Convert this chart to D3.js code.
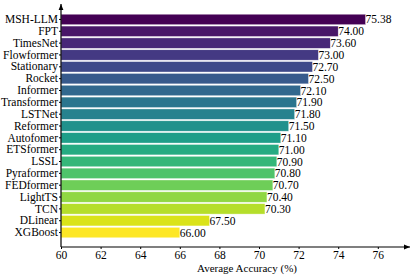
<!DOCTYPE html>
<html>
<head>
<meta charset="utf-8">
<script src="https://cdn.jsdelivr.net/npm/d3@7"></script>
</head>
<body style="margin:0; background:#fff">
<script>
// horizontal bar chart, viridis colours
var width = 415;
var height = 277;
var serif = "Liberation Serif";

var margin = { top: 14, left: 61, right: 7, bottom: 30 };

// data
var models = ["MSH-LLM", "FPT", "TimesNet", "Flowformer", "Stationary", "Rocket",
  "Informer", "Transformer", "LSTNet", "Reformer", "Autofomer", "ETSformer",
  "LSSL", "Pyraformer", "FEDformer", "LightTS", "TCN", "DLinear", "XGBoost"];
var accuracy = [75.38, 74.00, 73.60, 73.00, 72.70, 72.50, 72.10, 71.90, 71.80,
  71.50, 71.10, 71.00, 70.90, 70.80, 70.70, 70.40, 70.30, 67.50, 66.00];
var xTicks = [60, 62, 64, 66, 68, 70, 72, 74, 76];

var svg = d3.select("body")
  .append("svg")
  .attr("width", width)
  .attr("height", height);

var defs = svg.append("defs");
defs.append("marker")
  .attr("id", "arrow")
  .attr("viewBox", "0 0 10 10")
  .attr("refX", 10).attr("refY", 5)
  .attr("markerWidth", 5).attr("markerHeight", 5)
  .attr("orient", "auto")
  .append("path")
  .attr("d", "M0,1 L10,5 L0,9 Z")
  .attr("fill", "#000");

var xScale = d3.scaleLinear()
  .domain([60, 77.5])
  .range([margin.left, margin.left + 17.5 * 19.8]);

var yScale = d3.scaleBand()
  .domain(models)
  .range([margin.top, 238])
  .paddingInner(0.12)
  .paddingOuter(0.02);

var color = d3.scaleSequential(d3.interpolateViridis)
  .domain([0, models.length - 1]);

// bars
svg.selectAll("rect.bar")
  .data(models)
  .enter()
  .append("rect")
  .attr("class", "bar")
  .attr("x", xScale(60))
  .attr("y", function(d) { return yScale(d); })
  .attr("width", function(d, i) { return xScale(accuracy[i]) - xScale(60); })
  .attr("height", yScale.bandwidth())
  .attr("fill", function(d, i) { return color(i); })
  .attr("stroke", "#fff")
  .attr("stroke-opacity", 0.6)
  .attr("stroke-width", 0.6);

// value labels
svg.selectAll("text.val")
  .data(models)
  .enter()
  .append("text")
  .attr("class", "val")
  .attr("x", function(d, i) { return xScale(accuracy[i]); })
  .attr("y", function(d) { return yScale(d) + yScale.bandwidth() / 2; })
  .attr("dy", "0.35em")
  .text(function(d, i) { return accuracy[i].toFixed(2); });

// axes
var xAxis = svg.append("g")
  .attr("transform", "translate(0," + 247 + ")")
  .call(d3.axisBottom(xScale).tickValues(xTicks).tickSize(2).tickSizeOuter(0));
xAxis.select(".domain").remove();
xAxis.selectAll("text").attr("y", 3).attr("dy", "0.75em");

var yAxis = svg.append("g")
  .attr("transform", "translate(" + margin.left + ",0)")
  .call(d3.axisLeft(yScale).tickSize(2).tickSizeOuter(0));
yAxis.select(".domain").remove();
yAxis.selectAll("text").attr("x", -3);

// axis lines with arrows
svg.append("line")
  .attr("x1", margin.left).attr("y1", 247)
  .attr("x2", 410).attr("y2", 247)
  .attr("stroke", "#000").attr("stroke-width", 1.2)
  .attr("marker-end", "url(#arrow)");
svg.append("line")
  .attr("x1", margin.left).attr("y1", 247)
  .attr("x2", margin.left).attr("y2", 4)
  .attr("stroke", "#000").attr("stroke-width", 1.2)
  .attr("marker-end", "url(#arrow)");

svg.append("text")
  .attr("class", "title")
  .attr("x", 247)
  .attr("y", 272)
  .attr("text-anchor", "middle")
  .text("Average Accuracy (%)");

// same serif face on every text
svg.selectAll("text")
  .attr("font-family", serif)
  .style("font-family", serif)
  .attr("font-size", 11.5)
  .attr("fill", "#000");
svg.select("text.title").attr("font-size", 11);
</script>
</body>
</html>
